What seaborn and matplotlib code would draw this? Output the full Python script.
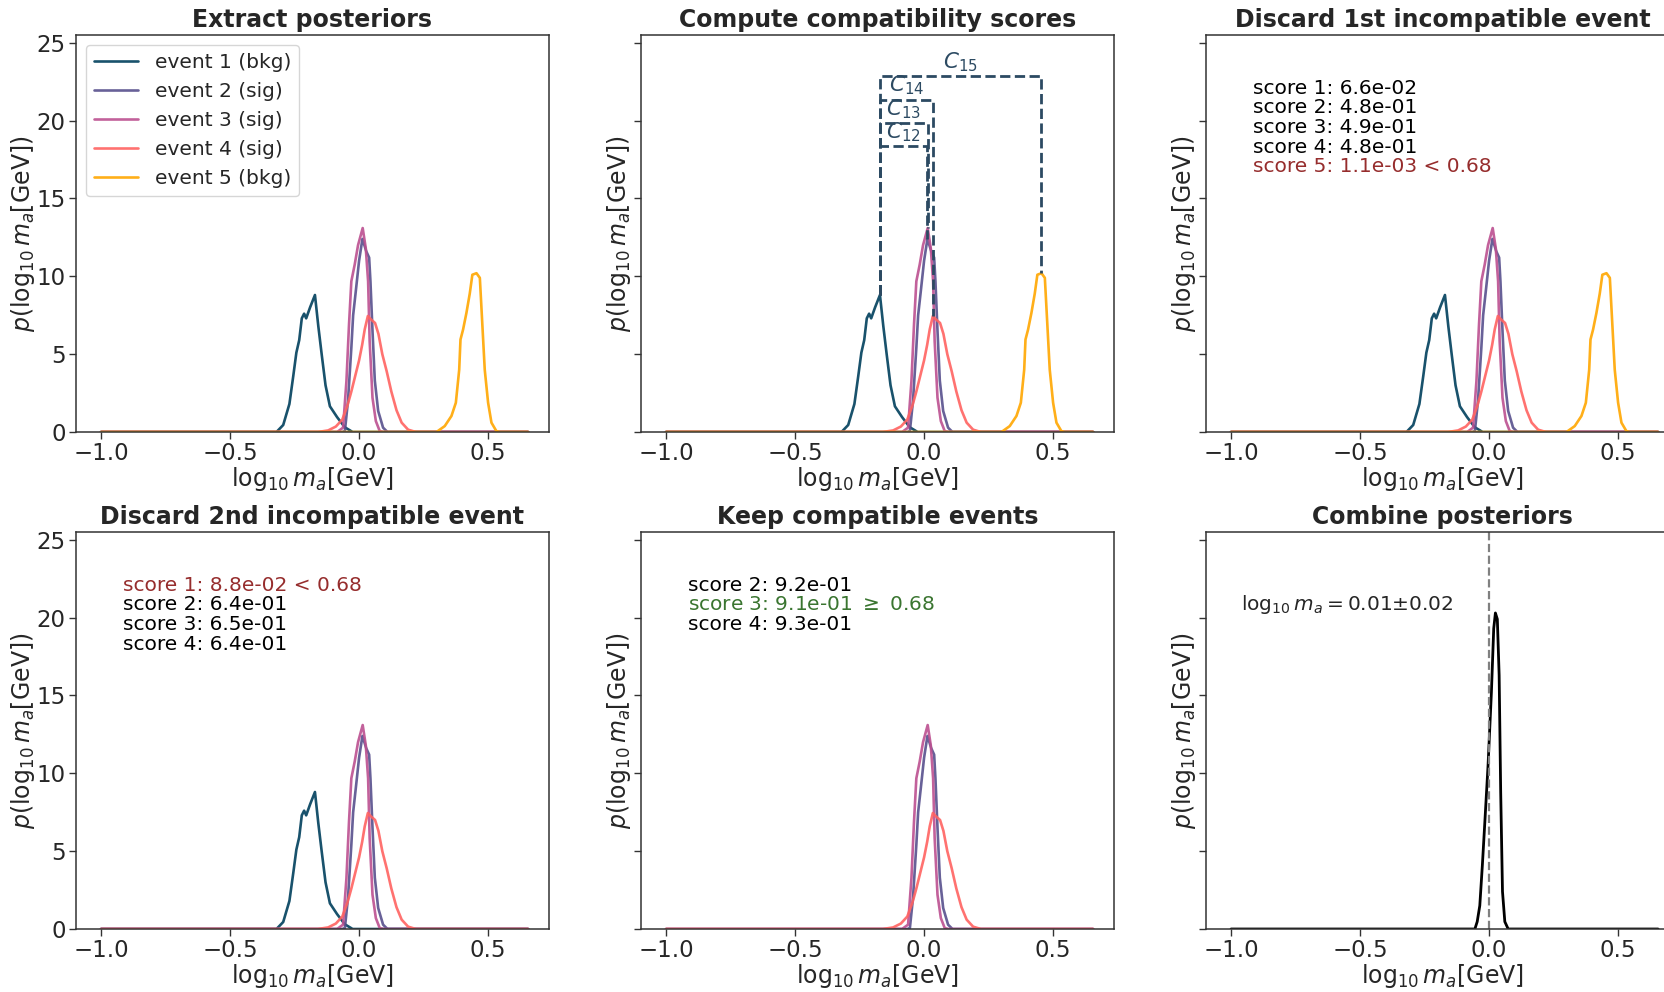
import numpy as np
import pandas as pd
import matplotlib
matplotlib.use("Agg")
import matplotlib.pyplot as plt
import seaborn as sns

# ---- data ----
EVENT_NAMES = ["event 1 (bkg)", "event 2 (sig)", "event 3 (sig)", "event 4 (sig)", "event 5 (bkg)"]
EVENT_COLORS = ["#003f5c", "#58508d", "#bc5090", "#ff6361", "#ffa600"]

# posteriors p(log10 m_a), x = log10 m_a [GeV]
EVENT1_X = [-1.0, -0.32, -0.294, -0.27, -0.255, -0.243, -0.232, -0.222, -0.213, -0.205,
            -0.19, -0.171, -0.158, -0.145, -0.13, -0.113, -0.085, -0.055, -0.025, 0.655]
EVENT1_Y = [0, 0, 0.45, 1.8, 3.6, 5.1, 5.9, 7.3, 7.6, 7.3,
            8.0, 8.8, 6.8, 5.0, 3.0, 1.65, 0.95, 0.3, 0, 0]

EVENT2_X = [-1.0, -0.065, -0.055, -0.043, -0.030, -0.023, -0.013, 0.0, 0.013, 0.028,
            0.039, 0.044, 0.052, 0.061, 0.074, 0.093, 0.11, 0.655]
EVENT2_Y = [0, 0, 0.06, 1.99, 5.4, 7.5, 9.0, 11.0, 12.4, 11.6,
            11.2, 9.7, 6.5, 3.3, 1.35, 0.28, 0, 0]

EVENT3_X = [-1.0, -0.085, -0.062, -0.049, -0.039, -0.030, -0.017, -0.004, 0.014, 0.026,
            0.035, 0.041, 0.052, 0.065, 0.080, 0.095, 0.655]
EVENT3_Y = [0, 0, 0.28, 3.27, 6.9, 9.68, 10.75, 12.0, 13.1, 11.8,
            9.68, 5.83, 2.2, 0.7, 0.06, 0, 0]

EVENT4_X = [-1.0, -0.16, -0.12, -0.09, -0.065, -0.045, -0.03, -0.015, 0.0, 0.012, 0.022,
            0.034, 0.045, 0.062, 0.075, 0.09, 0.107, 0.125, 0.145, 0.165, 0.19, 0.22, 0.655]
EVENT4_Y = [0, 0, 0.1, 0.35, 0.8, 1.7, 2.6, 3.6, 4.6, 5.6, 6.6,
            7.45, 7.25, 7.0, 6.3, 5.0, 3.9, 2.6, 1.4, 0.6, 0.15, 0, 0]

EVENT5_X = [-1.0, 0.300, 0.332, 0.358, 0.375, 0.388, 0.393, 0.403, 0.416, 0.429, 0.439,
            0.455, 0.468, 0.478, 0.487, 0.5, 0.513, 0.532, 0.545, 0.655]
EVENT5_Y = [0, 0, 0.38, 1.03, 1.88, 4.0, 5.94, 6.58, 7.65, 8.9, 10.1,
            10.2, 9.9, 6.8, 4.0, 1.88, 0.6, 0.06, 0, 0]

COMBINED_X = [-1.0, -0.055, -0.046, -0.036, -0.026, -0.017, -0.004, 0.009, 0.018, 0.0245,
              0.032, 0.039, 0.045, 0.052, 0.061, 0.074, 0.655]
COMBINED_Y = [0, 0, 0.47, 1.5, 4.1, 6.7, 10.5, 15.2, 19.3, 20.3,
              19.9, 16.3, 8.8, 2.4, 0.47, 0, 0]
TRUE_VALUE = 0.0

BRACKET_TOPS = [18.35, 19.85, 21.35, 22.85]
BRACKET_LABELS = [r"$C_{12}$", r"$C_{13}$", r"$C_{14}$", r"$C_{15}$"]

TITLES = ["Extract posteriors", "Compute compatibility scores", "Discard 1st incompatible event",
          "Discard 2nd incompatible event", "Keep compatible events", "Combine posteriors"]

SCORES_STEP1 = ["score 1: 6.6e-02", "score 2: 4.8e-01", "score 3: 4.9e-01",
                "score 4: 4.8e-01", "score 5: 1.1e-03 < 0.68"]
SCORES_STEP2 = ["score 1: 8.8e-02 < 0.68", "score 2: 6.4e-01", "score 3: 6.5e-01",
                "score 4: 6.4e-01"]
SCORES_STEP3 = ["score 2: 9.2e-01", r"score 3: 9.1e-01 $\geq$ 0.68", "score 4: 9.3e-01"]
FLAG_STEP1 = 4
FLAG_STEP2 = 0
FLAG_STEP3 = 1
COMBINED_TEXT = r"$\log_{10}m_a = 0.01{\pm}0.02$"

XLABEL = r"$\log_{10}m_a[\mathrm{GeV}]$"
YLABEL = r"$p(\log_{10}m_a[\mathrm{GeV}])$"

EVENTS_X = [EVENT1_X, EVENT2_X, EVENT3_X, EVENT4_X, EVENT5_X]
EVENTS_Y = [EVENT1_Y, EVENT2_Y, EVENT3_Y, EVENT4_Y, EVENT5_Y]

RED_TEXT = "#962d2d"
GREEN_TEXT = "#3a7530"
BRACKET_COLOR = "#2c4a62"


def PlotEvents(ax, idx, legend=False):
    for i in idx:
        df = pd.DataFrame({"x": EVENTS_X[i], "y": EVENTS_Y[i]})
        sns.lineplot(data=df, x="x", y="y", ax=ax, color=EVENT_COLORS[i], lw=1.9, alpha=0.9,
                     sort=False, estimator=None, label=EVENT_NAMES[i] if legend else None)


def ScoreText(ax, lines, flag, flag_color):
    for i, txt in enumerate(lines):
        ax.text(0.1, 0.866 - i * 0.0495, txt, transform=ax.transAxes, va="center",
                fontsize=14.5, color=flag_color if i == flag else "black")


def Brackets(ax):
    x0 = EVENTS_X[0][int(np.argmax(EVENTS_Y[0]))]
    y0 = max(EVENTS_Y[0])
    for k, top in enumerate(BRACKET_TOPS):
        j = k + 1
        x1 = EVENTS_X[j][int(np.argmax(EVENTS_Y[j]))]
        y1 = max(EVENTS_Y[j])
        ax.plot([x0, x0, x1, x1], [y0, top, top, y1], ls="--", lw=2, color=BRACKET_COLOR)
        ax.text((x0 + x1) / 2, top + 0.15, BRACKET_LABELS[k], ha="center", va="bottom",
                fontsize=15.5, color=BRACKET_COLOR)


def main():
    sns.set_theme(style="ticks")
    plt.rcParams["font.family"] = ["DejaVu Sans"]
    plt.rcParams["axes.edgecolor"] = "#333333"

    fig, axes = plt.subplots(2, 3, figsize=(16.65, 9.92), dpi=100)
    lefts = [76, 641, 1206]
    tops = [35, 532]
    for r in range(2):
        for c in range(3):
            axes[r, c].set_position([lefts[c] / 1665, 1 - (tops[r] + 397) / 992,
                                     473 / 1665, 397 / 992])

    PlotEvents(axes[0, 0], range(5), legend=True)
    PlotEvents(axes[0, 1], range(5))
    Brackets(axes[0, 1])
    PlotEvents(axes[0, 2], range(5))
    ScoreText(axes[0, 2], SCORES_STEP1, FLAG_STEP1, RED_TEXT)
    PlotEvents(axes[1, 0], range(4))
    ScoreText(axes[1, 0], SCORES_STEP2, FLAG_STEP2, RED_TEXT)
    PlotEvents(axes[1, 1], range(1, 4))
    ScoreText(axes[1, 1], SCORES_STEP3, FLAG_STEP3, GREEN_TEXT)

    ax = axes[1, 2]
    df = pd.DataFrame({"x": COMBINED_X, "y": COMBINED_Y})
    sns.lineplot(data=df, x="x", y="y", ax=ax, color="black", lw=2, sort=False, estimator=None)
    ax.axvline(TRUE_VALUE, color="gray", ls="--", lw=1.6)
    ax.text(0.074, 0.818, COMBINED_TEXT, transform=ax.transAxes, va="center", fontsize=14.5)

    axes[0, 0].legend(loc="upper left", fontsize=14.5, handlelength=2.2)

    for n, (ax, title) in enumerate(zip(axes.flat, TITLES)):
        first_col = (n % 3 == 0)
        ax.set_title(title, fontsize=17, fontweight="bold")
        ax.set_xlabel(XLABEL, fontsize=17, labelpad=0)
        ax.set_ylabel(YLABEL, fontsize=17, labelpad=1)
        if first_col:
            ax.yaxis.set_label_coords(-0.082, 0.5)
        ax.set_xlim(-1.097, 0.736)
        ax.set_ylim(0, 25.5)
        ax.set_xticks([-1.0, -0.5, 0.0, 0.5])
        ax.set_yticks([0, 5, 10, 15, 20, 25])
        ax.tick_params(labelsize=16.5, length=5, width=1, pad=2.5, color="#333333")
        if not first_col:
            ax.tick_params(axis="y", labelleft=False)
        for s in ax.spines.values():
            s.set_linewidth(1.1)

    fig.savefig("out.png", dpi=100)


if __name__ == "__main__":
    main()
